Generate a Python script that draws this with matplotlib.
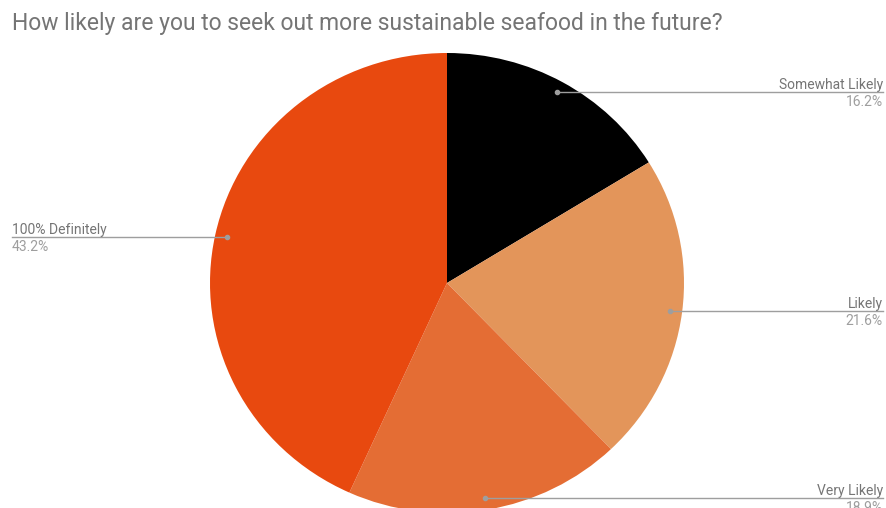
import numpy as np
import matplotlib
matplotlib.use("Agg")
import matplotlib.pyplot as plt

title = "How likely are you to seek out more sustainable seafood in the future?"
categories = ["Somewhat Likely", "Likely", "Very Likely", "100% Definitely"]
values = [16.2, 21.6, 18.9, 43.2]
colors = ["#000000", "#E3955A", "#E46D34", "#E8490F"]
# label side: right (1) or left (-1)
sides = [1, 1, 1, -1]

W, H = 886, 508
k = 237 / 230.0  # slight horizontal stretch in the reference
fig = plt.figure(figsize=(W / 100, H / 100), dpi=100)
ax = fig.add_axes([0, 0, 1, 1])

cx, cy, R = 447, 225 * k, 237
wedges, _ = ax.pie(values, colors=colors, startangle=90, counterclock=False,
                   center=(cx, cy), radius=R, frame=True,
                   wedgeprops=dict(linewidth=0))
ax.set_aspect("auto")
ax.set_xlim(0, W)
ax.set_ylim(0, H * k)
ax.axis("off")

line_col = "#9e9e9e"
txt_col = "#757575"
for w, name, val, side in zip(wedges, categories, values, sides):
    ang = np.deg2rad((w.theta1 + w.theta2) / 2)
    px = cx + 0.95 * R * np.cos(ang)
    py = cy + 0.95 * R * np.sin(ang)
    if side > 0:
        x_end = 883
        ha = "right"
    else:
        x_end = 12
        ha = "left"
    ax.plot([px, x_end], [py, py], color=line_col, lw=1.0, zorder=3)
    ax.plot([px], [py], marker="o", ms=3, color=line_col, zorder=4)
    ax.text(x_end, py + 3 * k, name, ha=ha, va="baseline", fontsize=10,
            family="Roboto", color=txt_col)
    ax.text(x_end, py - 3 * k, f"{val}%", ha=ha, va="top", fontsize=10,
            family="Roboto", color="#9e9e9e")

fig.text(12 / W, 1 - 30 / H, title, ha="left", va="baseline",
         fontsize=16.5, family="Roboto", color=txt_col)

fig.savefig("out.png", dpi=100, facecolor="white")
